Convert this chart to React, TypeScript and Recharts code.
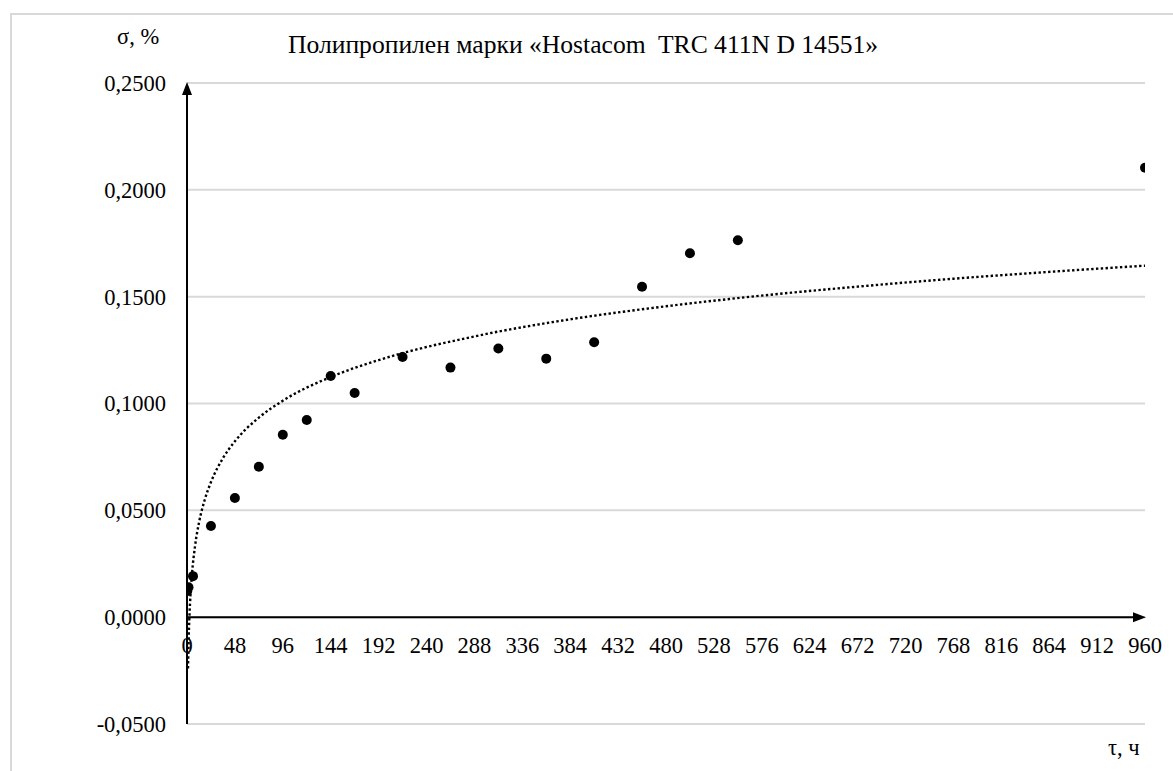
import { ComposedChart, Scatter, Line, XAxis, YAxis, CartesianGrid, ReferenceLine } from 'recharts'

// measured points: time, h / strain, %
const hours = [0.3, 1.5, 6, 24, 48, 72, 96, 120, 144, 168, 216, 264, 312, 360, 408, 456, 504, 552, 960]
const strain = [
  0.0122, 0.014, 0.0192, 0.0427, 0.0558, 0.0704, 0.0854, 0.0923, 0.1129, 0.1049, 0.1218, 0.1168, 0.1257,
  0.121, 0.1287, 0.1546, 0.1703, 0.1764, 0.2103,
]

// logarithmic trend line
const trendHours = [1, 2, 3, 5, 8, 12, 18, 24, 36, 48, 72, 96, 144, 192, 288, 384, 480, 576, 672, 768, 864, 960]
const trendStrain = [
  -0.024, -0.005, 0.0062, 0.0202, 0.0331, 0.0442, 0.0553, 0.0632, 0.0744, 0.0823, 0.0934, 0.1013, 0.1124,
  0.1203, 0.1314, 0.1394, 0.1455, 0.1505, 0.1547, 0.1584, 0.1616, 0.1645,
]

const xTicks = [0, 48, 96, 144, 192, 240, 288, 336, 384, 432, 480, 528, 576, 624, 672, 720, 768, 816, 864, 912, 960]
const yTicks = [-0.05, 0, 0.05, 0.1, 0.15, 0.2, 0.25]

const points = hours.map((x, i) => ({ x, y: strain[i] }))
const trend = trendHours.map((x, i) => ({ x, t: trendStrain[i] }))

const W = 1173
const H = 771
const TOP = 83
const BOTTOM = 724
const LEFT = 187
const RIGHT = 1145
const ZERO_Y = TOP + (BOTTOM - TOP) * (0.25 / 0.3)
const font = '"Liberation Serif"'

const fmt = (v: number) => v.toFixed(4).replace('.', ',')

function XTick(props: any) {
  return (
    <text x={props.x} y={ZERO_Y + 36} textAnchor="middle" fontSize={22.5} fontFamily={font} fill="#000">
      {props.payload.value}
    </text>
  )
}

function YTick(props: any) {
  return (
    <text x={LEFT - 21} y={props.y} dy="0.35em" textAnchor="end" fontSize={22.5} fontFamily={font} fill="#000">
      {fmt(props.payload.value)}
    </text>
  )
}

function VArrow(p: any) {
  const top = Math.min(p.y1, p.y2)
  const bot = Math.max(p.y1, p.y2)
  const x = p.x1
  return (
    <g>
      <line x1={x} y1={bot} x2={x} y2={top + 8} stroke="#000" strokeWidth={2} />
      <polygon points={`${x},${top - 1} ${x - 5},${top + 12} ${x + 5},${top + 12}`} fill="#000" />
    </g>
  )
}

function HArrow(p: any) {
  const right = Math.max(p.x1, p.x2)
  const left = Math.min(p.x1, p.x2)
  const y = p.y1
  return (
    <g>
      <line x1={left} y1={y} x2={right - 8} y2={y} stroke="#000" strokeWidth={2} />
      <polygon points={`${right + 1},${y} ${right - 12},${y - 5} ${right - 12},${y + 5}`} fill="#000" />
    </g>
  )
}

const Dot = (p: any) => <circle cx={p.cx} cy={p.cy} r={5} fill="#000" />

const label = { position: 'absolute' as const, fontFamily: font, lineHeight: 1, whiteSpace: 'pre' as const, color: '#000' }

export default function App() {
  return (
    <div style={{ position: 'absolute', left: 0, top: 0, width: W, height: H, overflow: 'hidden', background: '#fff' }}>
      <div style={{ position: 'absolute', left: 10, top: 13, width: 1300, height: 900, border: '2px solid #d9d9d9' }} />
      <div style={{ position: 'absolute', left: 0, top: 0 }}>
        <ComposedChart width={W} height={H} margin={{ top: TOP, right: W - RIGHT, bottom: 17, left: LEFT - 80 }}>
          <CartesianGrid horizontal vertical={false} stroke="#d9d9d9" strokeWidth={2} />
          <XAxis
            type="number"
            dataKey="x"
            domain={[0, 960]}
            ticks={xTicks}
            interval={0}
            axisLine={false}
            tickLine={false}
            height={30}
            tick={<XTick />}
            allowDataOverflow
          />
          <YAxis
            type="number"
            domain={[-0.05, 0.25]}
            ticks={yTicks}
            interval={0}
            axisLine={false}
            tickLine={false}
            width={80}
            tick={<YTick />}
          />
          <ReferenceLine x={0} shape={VArrow} />
          <ReferenceLine y={0} shape={HArrow} />
          <Line
            data={trend}
            dataKey="t"
            type="monotone"
            dot={false}
            stroke="#000"
            strokeWidth={2.4}
            strokeDasharray="2.4 2.4"
            isAnimationActive={false}
          />
          <Scatter data={points} dataKey="y" shape={Dot} isAnimationActive={false} />
        </ComposedChart>
      </div>
      <div style={{ ...label, left: 117, top: 26, fontSize: 22.5 }}>σ, %</div>
      <div style={{ ...label, left: 288, top: 32, fontSize: 25.6 }}>Полипропилен марки «Hostacom  TRC 411N D 14551»</div>
      <div style={{ ...label, left: 1108, top: 737, fontSize: 22.5 }}>τ, ч</div>
    </div>
  )
}
